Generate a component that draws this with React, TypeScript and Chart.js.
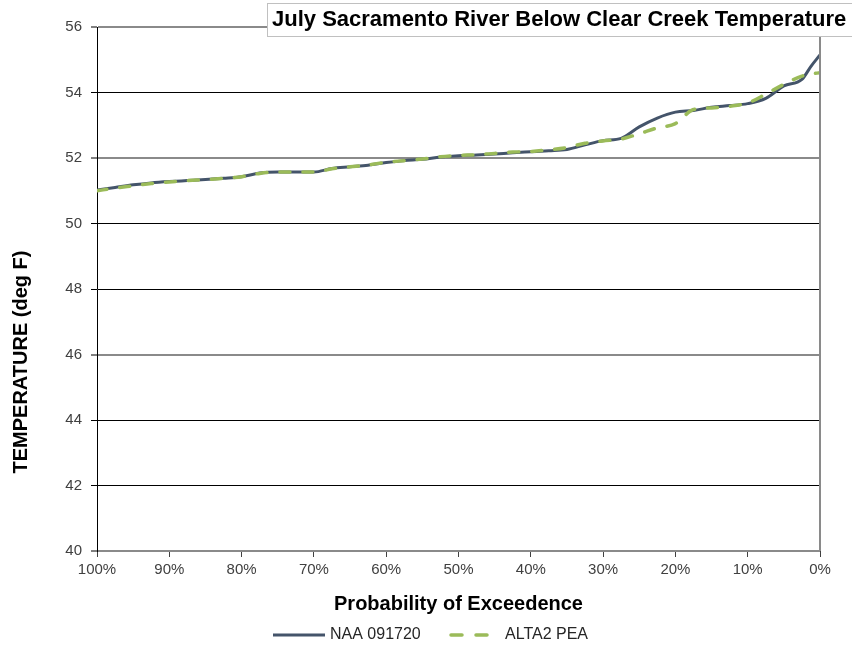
import React, { useEffect, useRef } from "react";
import { Chart, registerables } from "chart.js";

Chart.register(...registerables);

const chartTitle = "July Sacramento River Below Clear Creek Temperature";
const xAxisTitle = "Probability of Exceedence";
const yAxisTitle = "TEMPERATURE (deg F)";
const seriesNames = ["NAA 091720", "ALTA2 PEA"];

// Probability of exceedence (%)
const exceedance = [
  100, 97.5, 95, 92.5, 90, 87.5, 85, 82.5, 80, 77.5, 75, 72.5, 70, 67.5, 65, 62.5,
  60, 57.5, 55, 52.5, 50, 47.5, 45, 42.5, 40, 37.5, 35, 32.5, 30, 27.5, 25, 22.5,
  20, 17.5, 15, 12.5, 10, 7.5, 5, 2.5, 1.25, 0,
];

// Temperature (deg F)
const naa = [
  51.02, 51.1, 51.18, 51.24, 51.28, 51.31, 51.34, 51.38, 51.43, 51.54, 51.57, 51.57,
  51.57, 51.68, 51.73, 51.78, 51.86, 51.92, 51.96, 52.03, 52.07, 52.09, 52.12, 52.16,
  52.19, 52.22, 52.26, 52.4, 52.53, 52.6, 52.95, 53.22, 53.4, 53.45, 53.55, 53.6,
  53.66, 53.82, 54.2, 54.4, 54.8, 55.15,
];

const alta2 = [
  51.0, 51.08, 51.15, 51.22, 51.27, 51.31, 51.34, 51.38, 51.43, 51.53, 51.57, 51.57,
  51.57, 51.67, 51.73, 51.79, 51.87, 51.92, 51.97, 52.04, 52.08, 52.1, 52.14, 52.18,
  52.2, 52.25, 52.32, 52.45, 52.52, 52.58, 52.74, 52.92, 53.05, 53.48, 53.53, 53.58,
  53.68, 53.95, 54.25, 54.5, 54.57, 54.6,
];

const yMin = 40;
const yMax = 56;
const yStep = 2;
const xStep = 10;

const FONT = "'Liberation Sans', Arial, sans-serif";
const NAA_COLOR = "#44546A";
const ALT_COLOR = "#9BBB59";
const GRAY_GRID = [56, 52, 46, 40];

const overlayPlugin = {
  id: "overlay",
  afterDraw(chart: any) {
    const ctx = chart.ctx;
    const area = chart.chartArea;
    ctx.save();
    // right border of plot area
    ctx.strokeStyle = "#8a8a8a";
    ctx.lineWidth = 2;
    ctx.beginPath();
    ctx.moveTo(area.right, area.top);
    ctx.lineTo(area.right, area.bottom);
    ctx.stroke();

    // y axis title
    ctx.save();
    ctx.translate(21, 362);
    ctx.rotate(-Math.PI / 2);
    ctx.fillStyle = "#000000";
    ctx.font = `bold 20px ${FONT}`;
    ctx.textAlign = "center";
    ctx.textBaseline = "middle";
    ctx.fillText(yAxisTitle, 0, 0);
    ctx.restore();

    // title box
    ctx.fillStyle = "#ffffff";
    ctx.fillRect(267, 3, 600, 34);
    ctx.strokeStyle = "#c0c0c0";
    ctx.lineWidth = 1;
    ctx.strokeRect(267.5, 3.5, 600, 33);
    ctx.fillStyle = "#000000";
    ctx.font = `bold 22px ${FONT}`;
    ctx.textBaseline = "middle";
    ctx.textAlign = "left";
    ctx.fillText(chartTitle, 272, 20);

    // legend
    const ds = chart.data.datasets;
    const ly = 635;
    ctx.font = `16px ${FONT}`;
    ctx.fillStyle = "#262626";
    ctx.lineCap = "butt";
    ctx.strokeStyle = ds[0].borderColor;
    ctx.lineWidth = 3;
    ctx.setLineDash([]);
    ctx.beginPath();
    ctx.moveTo(273, ly);
    ctx.lineTo(325, ly);
    ctx.stroke();
    ctx.fillText(ds[0].label, 330, ly);

    ctx.strokeStyle = ds[1].borderColor;
    ctx.lineWidth = 3.5;
    ctx.lineCap = "round";
    ctx.setLineDash([11, 14]);
    ctx.beginPath();
    ctx.moveTo(451, ly);
    ctx.lineTo(488, ly);
    ctx.stroke();
    ctx.setLineDash([]);
    ctx.fillText(ds[1].label, 505, ly);
    ctx.restore();
  },
};

export default function App() {
  const ref = useRef<HTMLCanvasElement | null>(null);

  useEffect(() => {
    if (!ref.current) return;
    const chart = new Chart(ref.current, {
      type: "line",
      data: {
        datasets: [
          {
            label: seriesNames[0],
            data: exceedance.map((x, i) => ({ x, y: naa[i] })),
            borderColor: NAA_COLOR,
            backgroundColor: NAA_COLOR,
            borderWidth: 3,
            pointRadius: 0,
            cubicInterpolationMode: "monotone",
            order: 1,
          },
          {
            label: seriesNames[1],
            data: exceedance.map((x, i) => ({ x, y: alta2[i] })),
            borderColor: ALT_COLOR,
            backgroundColor: ALT_COLOR,
            borderWidth: 3.5,
            borderDash: [10, 13],
            borderCapStyle: "round",
            pointRadius: 0,
            cubicInterpolationMode: "monotone",
            order: 0,
          },
        ],
      },
      options: {
        animation: false,
        responsive: false,
        maintainAspectRatio: false,
        layout: { padding: { left: 0, right: 32, top: 27, bottom: 26 } },
        plugins: {
          legend: { display: false },
          title: { display: false },
          tooltip: { enabled: false },
        },
        scales: {
          x: {
            type: "linear",
            reverse: true,
            min: 0,
            max: 100,
            afterFit: (s: any) => {
              s.height = 69;
            },
            ticks: {
              stepSize: xStep,
              autoSkip: false,
              maxRotation: 0,
              padding: 4,
              color: "#404040",
              font: { family: FONT, size: 15 },
              callback: (v: any) => `${v}%`,
            },
            grid: {
              drawOnChartArea: false,
              drawTicks: true,
              tickLength: 6,
              tickColor: "#404040",
            },
            border: { display: false },
            title: {
              display: true,
              text: xAxisTitle,
              color: "#000",
              font: { family: FONT, size: 20, weight: "bold" },
              padding: { top: 0, bottom: 4 },
            },
          },
          y: {
            min: yMin,
            max: yMax,
            afterFit: (s: any) => {
              s.width = 97;
            },
            ticks: {
              stepSize: yStep,
              padding: 9,
              color: "#404040",
              font: { family: FONT, size: 15 },
            },
            grid: {
              color: (c: any) => (GRAY_GRID.includes(c.tick?.value) ? "#8a8a8a" : "#000000"),
              lineWidth: (c: any) => (GRAY_GRID.includes(c.tick?.value) ? 2 : 1),
              tickColor: "#000000",
              tickLength: 6,
              tickWidth: 1,
            },
            border: { display: true, color: "#000000", width: 1 },
            title: { display: false },
          },
        },
      },
      plugins: [overlayPlugin],
    });
    return () => chart.destroy();
  }, []);

  return (
    <div style={{ position: "absolute", left: 0, top: 0, width: 852, height: 646, background: "#fff" }}>
      <canvas ref={ref} width={852} height={646} />
    </div>
  );
}
